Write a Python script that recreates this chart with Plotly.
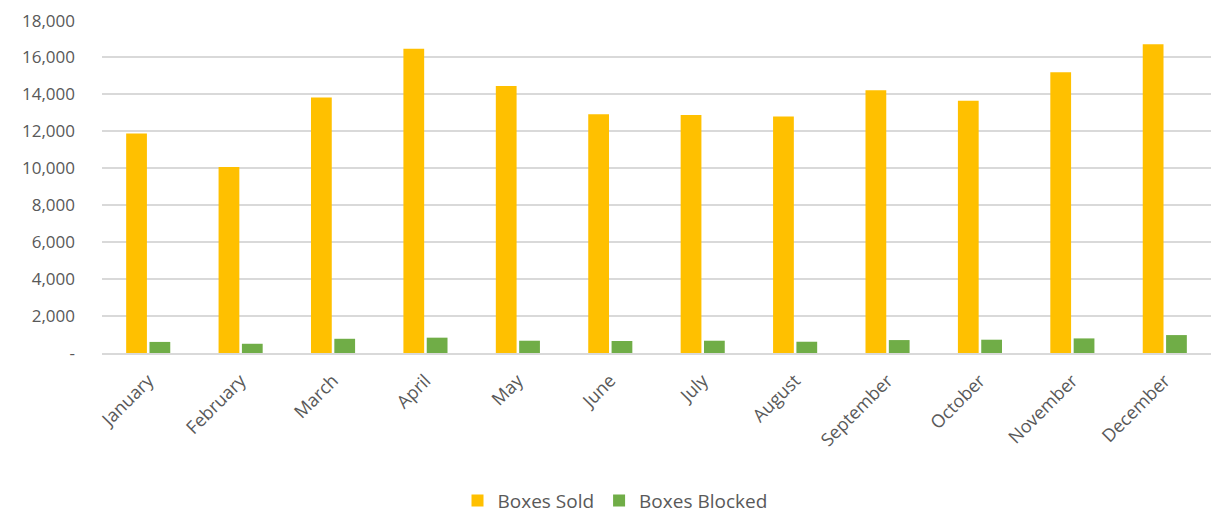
import plotly.graph_objects as go

months = ["January", "February", "March", "April", "May", "June", "July",
          "August", "September", "October", "November", "December"]
boxes_sold = [11890, 10070, 13840, 16480, 14450, 12930, 12880, 12810, 14230, 13660, 15200, 16720]
boxes_blocked = [600, 500, 770, 830, 665, 650, 665, 610, 700, 720, 790, 970]
y_tickvals = [0, 2000, 4000, 6000, 8000, 10000, 12000, 14000, 16000, 18000]
y_ticktext = ["-", "2,000", "4,000", "6,000", "8,000", "10,000", "12,000", "14,000", "16,000", "18,000"]

font_family = "'Open Sans', 'Liberation Sans', Arial, sans-serif"
text_color = "#595959"

fig = go.Figure()
fig.add_trace(go.Bar(x=months, y=boxes_sold, name="Boxes Sold",
                     marker=dict(color="#FFC000", line=dict(width=0))))
fig.add_trace(go.Bar(x=months, y=boxes_blocked, name="Boxes Blocked",
                     marker=dict(color="#70AD47", line=dict(width=0))))

# page body has an 8px margin, so the figure is sized/offset to compensate
fig.update_layout(
    width=1214, height=508,
    margin=dict(l=94, r=11, t=12, b=163),
    paper_bgcolor="white", plot_bgcolor="white",
    barmode="group", bargap=0.495, bargroupgap=0.11,
    font=dict(family=font_family, size=17, color=text_color),
    showlegend=True,
    legend=dict(orientation="h", x=0.5, xanchor="center", xref="container",
                y=0.03, yanchor="middle", yref="container",
                font=dict(size=19, color=text_color), traceorder="normal"),
    xaxis=dict(tickangle=-45, showgrid=False, showline=True, linecolor="#D9D9D9",
               linewidth=2, ticks="", automargin=False, ticklabelstandoff=8,
               tickfont=dict(size=18, color=text_color)),
    yaxis=dict(range=[0, 18030], tickvals=y_tickvals, ticktext=y_ticktext,
               showgrid=True, gridcolor="#D9D9D9", gridwidth=1.5, zeroline=False,
               showline=False, ticks="", ticklabelstandoff=26, automargin=False,
               tickfont=dict(size=17, color=text_color)),
)

fig.write_html("out.html")
